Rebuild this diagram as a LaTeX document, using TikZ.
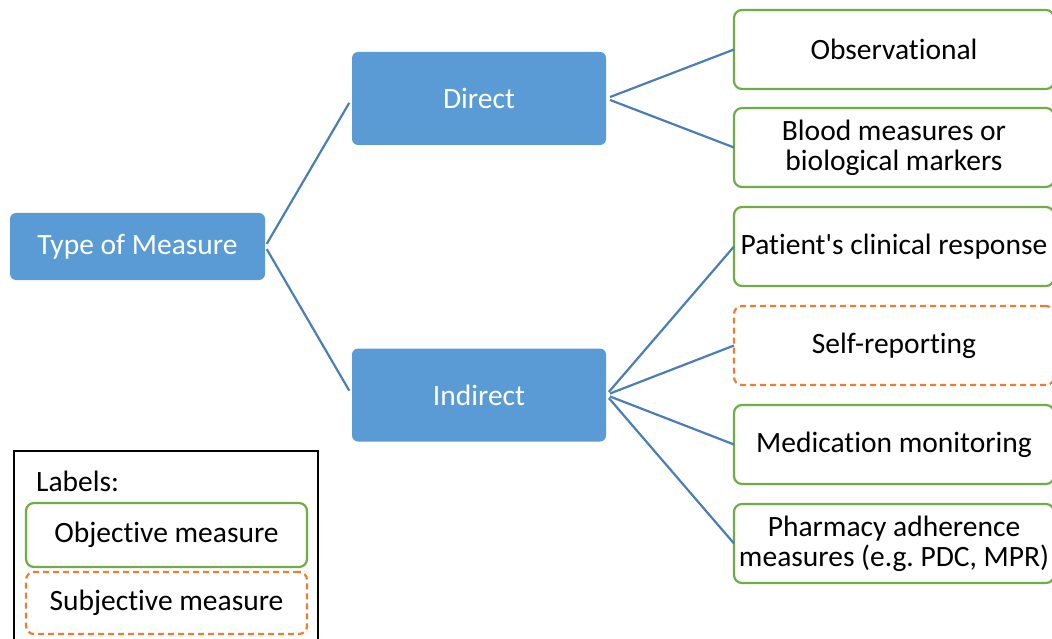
\documentclass[tikz,border=0pt]{standalone}
\usepackage{fontspec}
\setmainfont[Ligatures={NoCommon}]{Carlito}
\usepackage{tikz}
\usetikzlibrary{positioning}

\definecolor{boxblue}{HTML}{5B9BD5}
\definecolor{lineblue}{HTML}{4A7EB4}
\definecolor{objgreen}{HTML}{70AD47}
\definecolor{subjorange}{HTML}{ED7D31}

\frenchspacing

\begin{document}
\begin{tikzpicture}[
        x = 1pt, y = -1pt,
        main/.style = {
                fill = boxblue,
                rounded corners = 6pt,
                text = white,
                font = \fontsize{29.5}{30}\selectfont,
                minimum width = 254pt,
                minimum height = #1,
                inner sep = 0pt
            },
            main/.default = 93pt,
        leaf/.style = {
                draw = objgreen,
                line width = 2.2pt,
                rounded corners = 8pt,
                fill = white,
                align = center,
                font = \fontsize{29.5}{30}\selectfont,
                minimum width = 320pt,
                minimum height = #1,
                inner sep = 0pt,
                outer sep = 0pt
            },
            leaf/.default = 79pt,
        subj/.style = {
                leaf = #1,
                draw = subjorange,
                dash pattern = on 6pt off 4pt
            },
            subj/.default = 79pt,
        link/.style = {
                draw = lineblue,
                line width = 2.2pt
            },
        node distance = {20pt}
    ]
    \clip (0,0) rectangle (1052,639);

    \node[main=67pt, minimum width = 255pt] (type) at (137.5,246.5) {Type of Measure};
    \node[main] (direct) at (479,98.5) {Direct};
    \node[main] (indirect) at (479,395) {Indirect};

    \node[leaf] (obs) at (894,49.5) {Observational};
    \node[leaf, below=19pt of obs] (blood) {Blood measures or\\biological markers};
    \node[leaf, below=20pt of blood] (patient) {Patient\textquotesingle s clinical response};
    \node[subj, below=20pt of patient] (self) {Self-reporting};
    \node[leaf, below=20pt of self] (medic) {Medication monitoring};
    \node[leaf, below=20pt of medic] (pharm) {Pharmacy adherence\\measures (e.g. PDC, MPR)};

    \draw[link, shorten <= 3pt, shorten >= 5pt] (type.east) -- (direct.west);
    \draw[link, shorten <= 3pt, shorten >= 5pt] (type.east) -- (indirect.west);

    \draw[link, shorten <= 4pt] (direct.east) -- (obs.west);
    \draw[link, shorten <= 4pt] (direct.east) -- (blood.west);

    \draw[link, shorten <= 4pt] (indirect.east) -- (patient.west);
    \draw[link, shorten <= 4pt] (indirect.east) -- (self.west);
    \draw[link, shorten <= 4pt] (indirect.east) -- (medic.west);
    \draw[link, shorten <= 4pt] (indirect.east) -- (pharm.west);

    % legend
    \draw[line width = 1.5pt] (14,451) rectangle (318,660);
    \node[anchor = west, font = \fontsize{29.5}{30}\selectfont, inner sep = 0pt] (lbl) at (36,481) {Labels:};
    \node[leaf = 64pt, minimum width = 281pt] (objkey) at (166.5,535) {Objective measure};
    \node[subj = 62pt, minimum width = 281pt] (subjkey) at (166.5,603) {Subjective measure};
\end{tikzpicture}
\end{document}
